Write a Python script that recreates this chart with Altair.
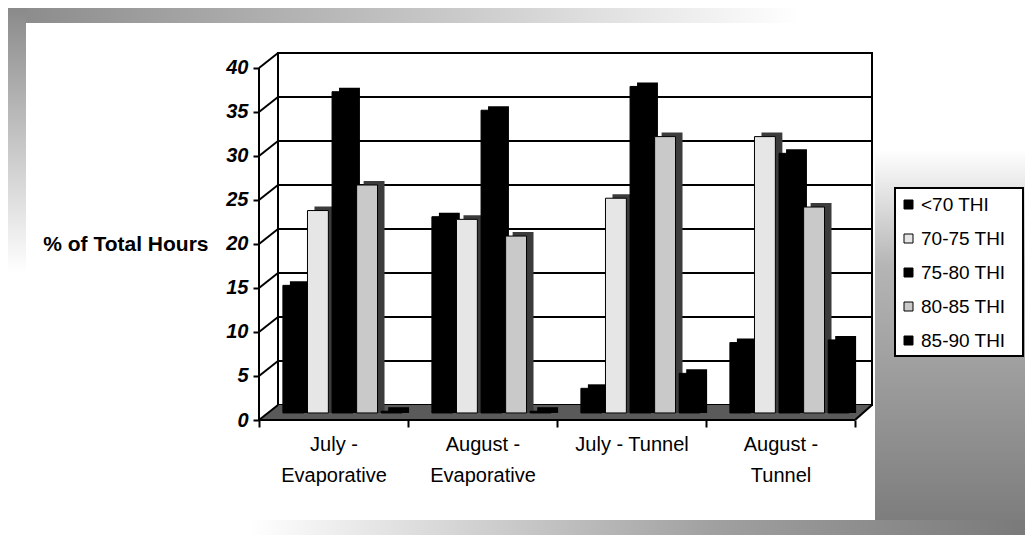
import altair as alt
import pandas as pd

# ---------------- data ----------------
categories = ["July - Evaporative", "August - Evaporative", "July - Tunnel", "August - Tunnel"]
series = ["<70 THI", "70-75 THI", "75-80 THI", "80-85 THI", "85-90 THI"]
thi_lt70 = [14.5, 22.3, 2.8, 8.0]
thi_70_75 = [23.0, 22.0, 24.4, 31.4]
thi_75_80 = [36.5, 34.4, 37.1, 29.5]
thi_80_85 = [25.9, 20.1, 31.4, 23.4]
thi_85_90 = [0.2, 0.2, 4.5, 8.3]
y_ticks = [0, 5, 10, 15, 20, 25, 30, 35, 40]
series_colors = ["#000000", "#e6e6e6", "#000000", "#c9c9c9", "#000000"]

# ---------------- style constants ----------------
FONT = "Liberation Sans"
BACK = 1.7     # depth of the fake 3D back wall (axis units)
MID = 0.8      # bars stand half way between front and back
W, H = 596, 367
YMAX = 41.7

rows = []
for s, vals in zip(series, [thi_lt70, thi_70_75, thi_75_80, thi_80_85, thi_85_90]):
    for c, v in zip(categories, vals):
        rows.append({"category": c, "series": s, "value": v})
df = pd.DataFrame(rows)
ticks_df = pd.DataFrame({"g": y_ticks})
one = alt.Data(values=[{"k": 1}])

yscale = alt.Scale(domain=[0, YMAX], nice=False, zero=False)
xscale = alt.Scale(domain=categories, paddingInner=0, paddingOuter=0)

y_axis = alt.Axis(
    values=y_ticks, domain=False, grid=False, tickSize=6, tickWidth=2,
    tickColor="black", labelPadding=5, labelFont=FONT, labelFontSize=20,
    labelFontWeight="bold", labelFontStyle="italic", labelColor="black",
    title="% of Total Hours", titleAngle=0, titleAlign="right",
    titleBaseline="middle", titleX=-51, titleY=191, titleFont=FONT,
    titleFontSize=21, titleFontWeight="bold", titleColor="black")

x_axis = alt.Axis(
    title=None, domain=False, tickBand="extent", ticks=True, tickSize=7, tickWidth=2,
    tickColor="black", labelAngle=0, labelFont=FONT, labelFontSize=20,
    labelColor="black", labelLineHeight=31, labelPadding=7, labelLimit=300,
    labelExpr="datum.label == 'July - Tunnel' ? datum.label : split(replace(datum.label, ' - ', ' -|'), '|')")


def grad(x2, y2, stops):
    return {"gradient": "linear", "x1": 0, "y1": 0, "x2": x2, "y2": y2,
            "stops": [{"offset": o, "color": c} for o, c in stops]}


def band(x, x2, y, y2, fill):
    return alt.Chart(one).mark_rect(fill=fill, strokeWidth=0).encode(
        x=alt.value(x), x2=alt.value(x2), y=alt.value(y), y2=alt.value(y2))


# scanned grey frame around the chart
frame_top = band(-251, 541, -45, -30, grad(1, 0, [(0, "#8a8a8a"), (0.55, "#c8c8c8"), (1, "#ffffff")]))
frame_left = band(-251, -233, -45, 220, grad(0, 1, [(0, "#8a8a8a"), (1, "#ffffff")]))
frame_right = band(616, 766, 97, 482, grad(0, 1, [(0, "#ffffff"), (0.3, "#b5b5b5"), (1, "#7a7a7a")]))
frame_bottom = band(-9, 766, 467, 482, grad(1, 0, [(0, "#ffffff"), (0.6, "#a0a0a0"), (1, "#7a7a7a")]))

# back wall
back_wall = alt.Chart(one).mark_rect(fill="white", stroke="black", strokeWidth=2).encode(
    x=alt.value(19), x2=alt.value(613), y=alt.value(0), y2=alt.value(352))

# floor: a parallelogram between the front edge and the back wall
FLOOR_PATH = "M -1 0.0245 L 0.9445 0.0245 L 1 -0.0245 L -0.938 -0.0245 Z"
floor = alt.Chart(one).mark_point(shape=FLOOR_PATH, filled=True, size=613 * 613,
                                  fill="#5a5a5a", opacity=1, strokeWidth=0).encode(
    x=alt.value(306.5),
    y=alt.Y(datum=BACK / 2, scale=yscale, axis=y_axis))

grid = alt.Chart(ticks_df).transform_filter("datum.g > 0").transform_calculate(
    gy=f"datum.g + {BACK}").mark_rule(color="black", strokeWidth=2).encode(
    x=alt.value(19), x2=alt.value(613),
    y=alt.Y("gy:Q", scale=yscale, axis=y_axis))

connectors = alt.Chart(ticks_df).transform_calculate(
    gy=f"datum.g + {BACK}").mark_rule(color="black", strokeWidth=2).encode(
    x=alt.value(0), x2=alt.value(19),
    y=alt.Y("g:Q", scale=yscale, axis=y_axis), y2=alt.Y2("gy:Q"))

front_axis = alt.Chart(one).mark_rule(color="black", strokeWidth=2).encode(
    x=alt.value(0), y=alt.Y(datum=0, scale=yscale, axis=y_axis), y2=alt.Y2(datum=40))
front_edge = alt.Chart(one).mark_rule(color="black", strokeWidth=2).encode(
    x=alt.value(0), x2=alt.value(596), y=alt.Y(datum=0, scale=yscale, axis=y_axis))
right_edge = alt.Chart(one).mark_rule(color="black", strokeWidth=2).encode(
    x=alt.value(596), x2=alt.value(613),
    y=alt.Y(datum=0, scale=yscale, axis=y_axis), y2=alt.Y2(datum=BACK))

bars_base = alt.Chart(df).transform_calculate(
    top=f"datum.value + {MID}", base=f"{MID}")

# dark side/top of each 3D column: the same column pushed right and up
shadow = bars_base.mark_bar().encode(
    x=alt.X("category:N", scale=xscale, axis=x_axis),
    xOffset=alt.XOffset("series:N", scale=alt.Scale(domain=series, paddingInner=0.15,
                                                     paddingOuter=0, range=[30.9, 150.1])),
    y=alt.Y("top:Q", scale=yscale, axis=y_axis),
    y2=alt.Y2("base:Q"),
    yOffset=alt.value(-4),
    color=alt.condition("datum.series == '70-75 THI' || datum.series == '80-85 THI'",
                        alt.value("#3c3c3c"), alt.value("#000000")),
)

faces = bars_base.mark_bar(stroke="black", strokeWidth=1).encode(
    x=alt.X("category:N", scale=xscale, axis=x_axis),
    xOffset=alt.XOffset("series:N", scale=alt.Scale(domain=series, paddingInner=0.15,
                                                     paddingOuter=0, range=[23.9, 143.1])),
    y=alt.Y("top:Q", scale=yscale, axis=y_axis),
    y2=alt.Y2("base:Q"),
    color=alt.Color("series:N", scale=alt.Scale(domain=series, range=series_colors),
                    legend=alt.Legend(title=None, orient="none", legendX=640, legendY=142,
                                      symbolType="square", symbolSize=81,
                                      symbolStrokeColor="black", symbolStrokeWidth=1,
                                      labelFont=FONT, labelFontSize=19, labelColor="black",
                                      rowPadding=14, labelOffset=3, padding=0)),
)

legend_box = alt.Chart(one).mark_rect(fill="white", stroke="black", strokeWidth=2).encode(
    x=alt.value(636), x2=alt.value(764), y=alt.value(135), y2=alt.value(303))

chart = alt.layer(
    frame_top, frame_left, frame_right, frame_bottom,
    back_wall, floor, grid, connectors, shadow, faces,
    front_axis, front_edge, right_edge, legend_box,
).resolve_scale(xOffset="independent").properties(
    width=W, height=H,
    padding={"left": 251, "top": 45, "right": 170, "bottom": 115},
    autosize=alt.AutoSizeParams(type="none"),
    background="white",
).configure_view(strokeWidth=0)

chart.save("out.html", embed_options={"renderer": "svg", "actions": False})
